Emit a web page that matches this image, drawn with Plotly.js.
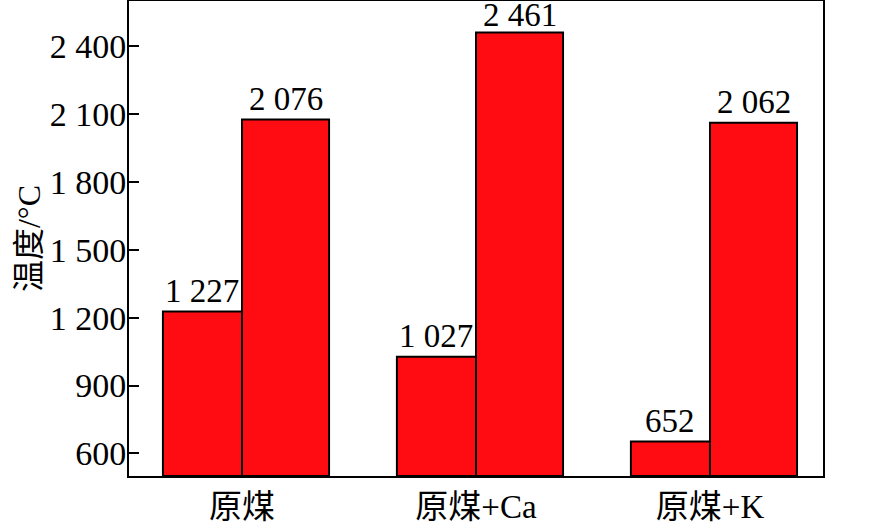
<!DOCTYPE html>
<html>
<head>
<meta charset="utf-8">
<script src="https://cdn.plot.ly/plotly-3.0.1.min.js"></script>
<style>html,body{margin:0;padding:0;background:#fff;}#chart{width:872px;height:528px;}</style>
</head>
<body>
<div id="chart"></div>
<script>
const categories = ["原煤", "原煤+Ca", "原煤+K"];
const seriesA = [1227, 1027, 652];
const seriesB = [2076, 2461, 2062];
const labelsA = ["1 227", "1 027", "652"];
const labelsB = ["2 076", "2 461", "2 062"];
const yTickVals = [600, 900, 1200, 1500, 1800, 2100, 2400];
const yTickText = ["600", "900", "1 200", "1 500", "1 800", "2 100", "2 400"];

const FONT = "Liberation Serif, Times New Roman, Noto Sans CJK SC, serif";
const RED = "#ff0c12";
const BASE = 500;
const Y_MAX = 2600;
const offA = -0.338, widA = 0.338, offB = 0, widB = 0.372;

const traces = [
  {
    type: "bar", x: categories, y: seriesA.map(v => v - BASE), base: BASE,
    offset: offA, width: widA,
    marker: {color: RED, line: {color: "#000", width: 2}},
    hoverinfo: "none"
  },
  {
    type: "bar", x: categories, y: seriesB.map(v => v - BASE), base: BASE,
    offset: offB, width: widB,
    marker: {color: RED, line: {color: "#000", width: 2}},
    hoverinfo: "none"
  }
];

// labels sit ~9px above bars, tighter when the bar nearly reaches the top of the frame
function labelShift(v) { return (Y_MAX - v) < 200 ? -3 : 1; }

const annotations = [];
categories.forEach((c, i) => {
  annotations.push({x: i + offA + widA / 2, y: seriesA[i], xref: "x", yref: "y",
    text: labelsA[i], showarrow: false, yanchor: "bottom", yshift: labelShift(seriesA[i]),
    font: {family: FONT, size: 33, color: "#000"}});
  annotations.push({x: i + offB + widB / 2, y: seriesB[i], xref: "x", yref: "y",
    text: labelsB[i], showarrow: false, yanchor: "bottom", yshift: labelShift(seriesB[i]),
    font: {family: FONT, size: 33, color: "#000"}});
});

const layout = {
  width: 872, height: 528,
  margin: {l: 129, r: 49, t: 1, b: 52, pad: 0},
  paper_bgcolor: "#fff", plot_bgcolor: "#fff",
  showlegend: false,
  barmode: "overlay",
  font: {family: FONT, size: 33, color: "#000"},
  annotations: annotations,
  xaxis: {
    type: "category", range: [-0.483, 2.483],
    showline: true, linecolor: "#000", linewidth: 2, mirror: true,
    ticks: "", showgrid: false, zeroline: false,
    tickfont: {family: FONT, size: 33, color: "#000"}
  },
  yaxis: {
    range: [BASE, Y_MAX],
    tickvals: yTickVals, ticktext: yTickText,
    ticks: "inside", ticklen: 10, tickwidth: 2, tickcolor: "#000",
    ticklabelstandoff: -6,
    showline: true, linecolor: "#000", linewidth: 2, mirror: true,
    showgrid: false, zeroline: false,
    tickfont: {family: FONT, size: 34, color: "#000"},
    title: {text: "温度/°C", font: {family: FONT, size: 32, color: "#000"}, standoff: 0}
  }
};

Plotly.newPlot("chart", traces, layout, {staticPlot: true, displayModeBar: false});
</script>
</body>
</html>
